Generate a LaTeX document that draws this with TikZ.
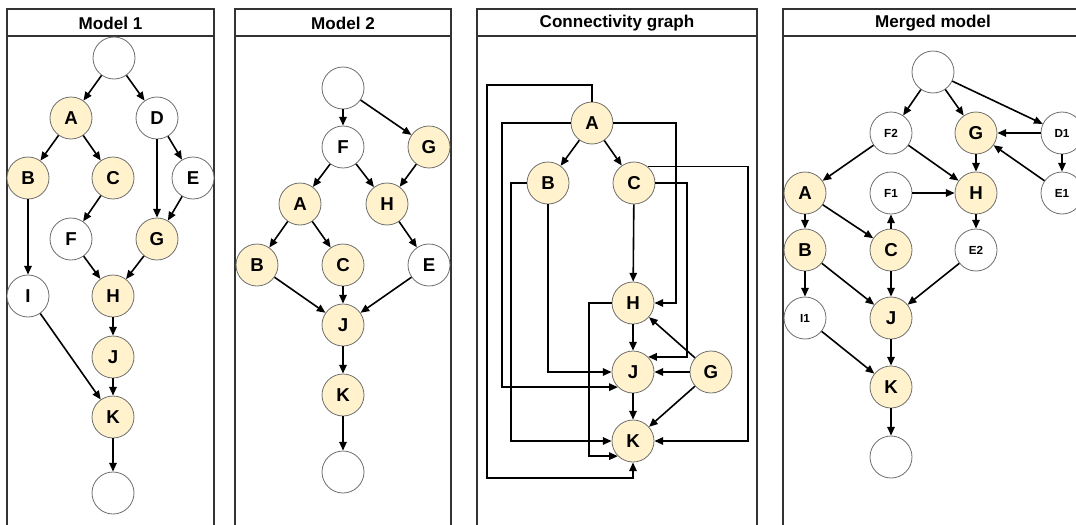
\documentclass[tikz,border=0pt]{standalone}
\usepackage{fontspec}
\setmainfont{Liberation Sans}
\usetikzlibrary{arrows.meta}
\definecolor{actfill}{RGB}{255,242,204}
\definecolor{ringgray}{RGB}{110,110,110}
\tikzset{every picture/.style={line width=0.75pt}}
\tikzset{
  gw/.style={circle, draw=ringgray, line width=0.6pt, fill=white, minimum size=31.5pt, inner sep=0pt, font=\fontsize{14}{14}\selectfont\bfseries},
  act/.style={gw, fill=actfill},
  sm/.style={gw, font=\fontsize{8.8}{8.8}\selectfont\bfseries},
  arr/.style={-{Triangle[length=6.5pt,width=5.5pt]}, line width=1.2pt},
  lane/.style={draw=black!80, line width=1pt},
  ttl/.style={font=\fontsize{12.8}{12.8}\selectfont\bfseries}
}

\begin{document}
\begin{tikzpicture}[x=0.75pt,y=0.75pt,yscale=-1,xscale=1]
	\clip (0,0) rectangle (1076,525);
	
	%Lanes and titles
	\draw[lane] (7,9) rectangle (214,540);
	\draw[lane] (7,9) rectangle (214,36);
	\draw[lane] (235,9) rectangle (451,540);
	\draw[lane] (235,9) rectangle (451,36);
	\draw[lane] (477,9) rectangle (757,540);
	\draw[lane] (477,9) rectangle (757,36);
	\draw[lane] (783,9) rectangle (1083,540);
	\draw[lane] (783,9) rectangle (1083,36);
	\node[ttl] (t1) at (110.5,23) {Model 1};
	\node[ttl] (t2) at (343,23) {Model 2};
	\node[ttl] (t3) at (617,23) {Connectivity graph};
	\node[ttl] (t4) at (933,23) {Merged model};
	
	% Model 1
	\node[gw] (m1s) at (114,58) {};
	\node[act] (m1A) at (71,118) {A};
	\node[gw] (m1D) at (157,118) {D};
	\node[act] (m1B) at (28,178) {B};
	\node[act] (m1C) at (113,178) {C};
	\node[gw] (m1E) at (193,178) {E};
	\node[gw] (m1F) at (71,239) {F};
	\node[act] (m1G) at (157,239) {G};
	\node[gw] (m1I) at (28,296) {I};
	\node[act] (m1H) at (113,296) {H};
	\node[act] (m1J) at (113,357) {J};
	\node[act] (m1K) at (113,417) {K};
	\node[gw] (m1e) at (113,493) {};
	\draw[arr] (m1s) -- (m1A);
	\draw[arr] (m1s) -- (m1D);
	\draw[arr] (m1A) -- (m1B);
	\draw[arr] (m1A) -- (m1C);
	\draw[arr] (m1C) -- (m1F);
	\draw[arr] (m1D) -- (m1G);
	\draw[arr] (m1D) -- (m1E);
	\draw[arr] (m1E) -- (m1G);
	\draw[arr] (m1F) -- (m1H);
	\draw[arr] (m1G) -- (m1H);
	\draw[arr] (m1B) -- (m1I);
	\draw[arr] (m1I) -- (m1K);
	\draw[arr] (m1H) -- (m1J);
	\draw[arr] (m1J) -- (m1K);
	\draw[arr] (m1K) -- (m1e);
	
	% Model 2
	\node[gw] (m2s) at (343,88) {};
	\node[gw] (m2F) at (343,147) {F};
	\node[act] (m2G) at (429,147) {G};
	\node[act] (m2A) at (300,204) {A};
	\node[act] (m2H) at (387,204) {H};
	\node[act] (m2B) at (257,265) {B};
	\node[act] (m2C) at (343,265) {C};
	\node[gw] (m2E) at (429,265) {E};
	\node[act] (m2J) at (343,325) {J};
	\node[act] (m2K) at (343,395) {K};
	\node[gw] (m2e) at (343,472) {};
	\draw[arr] (m2s) -- (m2F);
	\draw[arr] (m2s) -- (m2G);
	\draw[arr] (m2F) -- (m2A);
	\draw[arr] (m2F) -- (m2H);
	\draw[arr] (m2G) -- (m2H);
	\draw[arr] (m2A) -- (m2B);
	\draw[arr] (m2A) -- (m2C);
	\draw[arr] (m2H) -- (m2E);
	\draw[arr] (m2B) -- (m2J);
	\draw[arr] (m2C) -- (m2J);
	\draw[arr] (m2E) -- (m2J);
	\draw[arr] (m2J) -- (m2K);
	\draw[arr] (m2K) -- (m2e);
	
	% Connectivity graph
	\node[act] (cgA) at (592,123) {A};
	\node[act] (cgB) at (548,183) {B};
	\node[act] (cgC) at (634,183) {C};
	\node[act] (cgH) at (633,303) {H};
	\node[act] (cgJ) at (633,372) {J};
	\node[act] (cgG) at (711,372) {G};
	\node[act] (cgK) at (633,441) {K};
	\draw[arr] (cgA) -- (cgB);
	\draw[arr] (cgA) -- (cgC);
	\draw[arr] (cgC) -- (cgH);
	\draw[arr] (cgH) -- (cgJ);
	\draw[arr] (cgJ) -- (cgK);
	\draw[arr] (cgG) -- (cgJ);
	\draw[arr] (cgG) -- (cgH);
	\draw[arr] (cgG) -- (cgK);
	%Elbow lines
	\draw[arr] (cgA.north) |- (487,85) -- (487,478) -| (cgK.south);
	\draw[arr] (cgA.west) -- (502,0 |- cgA.west) |- (cgJ.south west);
	\draw[arr] (cgA.east) -- (676,0 |- cgA.east) |- (cgH.east);
	\draw[arr] (cgB.west) -- (511,0 |- cgB.west) |- (cgK.west);
	\draw[arr] (cgB.south) |- (cgJ.west);
	\draw[arr] (cgC.50) -- (748,0 |- cgC.50) |- (cgK.east);
	\draw[arr] (cgC.east) -- (687,0 |- cgC.east) |- (cgJ.north east);
	\draw[arr] (cgH.west) -- (589,0 |- cgH.west) |- (cgK.south west);
	
	% Merged model
	\node[gw] (mms) at (933,72) {};
	\node[sm] (mmF2) at (891,133) {F2};
	\node[act] (mmG) at (976,133) {G};
	\node[sm] (mmD1) at (1062,133) {D1};
	\node[act] (mmA) at (805,193) {A};
	\node[sm] (mmF1) at (891,193) {F1};
	\node[act] (mmH) at (976,193) {H};
	\node[sm] (mmE1) at (1062,193) {E1};
	\node[act] (mmB) at (805,250) {B};
	\node[act] (mmC) at (891,250) {C};
	\node[sm] (mmE2) at (976,250) {E2};
	\node[sm] (mmI1) at (805,318) {I1};
	\node[act] (mmJ) at (891,318) {J};
	\node[act] (mmK) at (891,387) {K};
	\node[gw] (mme) at (891,457) {};
	\draw[arr] (mms) -- (mmF2);
	\draw[arr] (mms) -- (mmG);
	\draw[arr] (mms) -- (mmD1);
	\draw[arr] (mmD1) -- (mmG);
	\draw[arr] (mmD1) -- (mmE1);
	\draw[arr] (mmE1) -- (mmG);
	\draw[arr] (mmF2) -- (mmA);
	\draw[arr] (mmF2) -- (mmH);
	\draw[arr] (mmG) -- (mmH);
	\draw[arr] (mmF1) -- (mmH);
	\draw[arr] (mmC) -- (mmF1);
	\draw[arr] (mmA) -- (mmB);
	\draw[arr] (mmA) -- (mmC);
	\draw[arr] (mmH) -- (mmE2);
	\draw[arr] (mmB) -- (mmI1);
	\draw[arr] (mmB) -- (mmJ);
	\draw[arr] (mmC) -- (mmJ);
	\draw[arr] (mmE2) -- (mmJ);
	\draw[arr] (mmI1) -- (mmK);
	\draw[arr] (mmJ) -- (mmK);
	\draw[arr] (mmK) -- (mme);
\end{tikzpicture}
\end{document}
